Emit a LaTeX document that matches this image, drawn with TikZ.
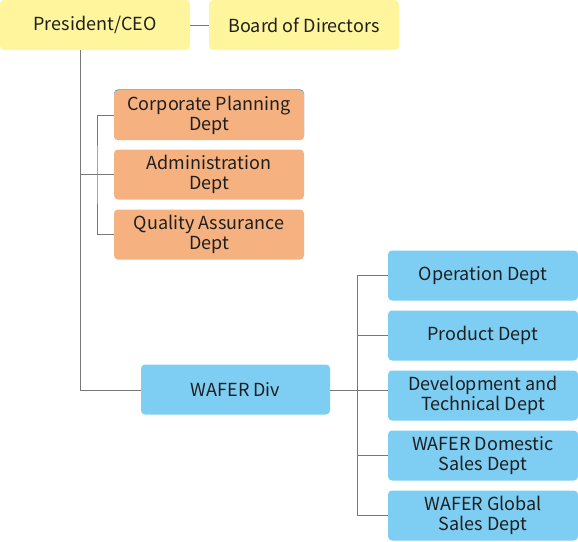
\documentclass[tikz,border=0pt]{standalone}
\usepackage{fontspec}
\setmainfont{Noto Sans CJK KR}
\definecolor{yel}{RGB}{255,245,157}
\definecolor{org}{RGB}{245,178,128}
\definecolor{blu}{RGB}{126,206,244}
\definecolor{topblu}{RGB}{20,160,235}
\definecolor{lin}{RGB}{120,120,120}
\definecolor{txt}{RGB}{30,30,30}
\begin{document}
\begin{tikzpicture}[x=1pt,y=-1pt,
  box/.style={rectangle,rounded corners=4pt,inner sep=0pt,minimum width=190pt,minimum height=50pt,
    align=center,text=txt,font=\fontsize{18}{20}\selectfont},
  ybox/.style={box,fill=yel},
  obox/.style={box,fill=org},
  bbox/.style={box,fill=blu},
  conn/.style={draw=lin,line width=0.9pt}]
\useasboundingbox (0,0) rectangle (578,541);
\node[ybox] (ceo) at (95,25) {President/CEO};
\node[ybox] (board) at (304,25) {Board of Directors};
\node[box,fill=topblu,minimum height=50pt] (cpback) at (209,114.4) {};
\node[obox] (cp) at (209,115.2) {Corporate Planning\\Dept};
\node[obox] (adm) at (209,174.5) {Administration\\Dept};
\node[obox] (qa) at (209,234.5) {Quality Assurance\\Dept};
\node[bbox,minimum width=189pt] (wafer) at (235.5,389.5) {WAFER Div};
\node[bbox] (op) at (483,275.5) {Operation Dept};
\node[bbox] (prod) at (483,335.5) {Product Dept};
\node[bbox] (dev) at (483,395.5) {Development and\\Technical Dept};
\node[bbox] (dom) at (483,455.5) {WAFER Domestic\\Sales Dept};
\node[bbox] (glob) at (483,515.5) {WAFER Global\\Sales Dept};
\coordinate (ceoB) at (80,50);
\coordinate (j1) at (80,174.5);
\coordinate (j2) at (80,390);
\coordinate (ob) at (97,174.5);
\coordinate (bb) at (357,390);
\draw[conn] (ceo.east) -- (board.west);
\draw[conn] (ceoB) -- (j2) -- (wafer.west |- j2);
\draw[conn] (j1) -- (adm.west);
\draw[conn] (cp.west) -| (ob) |- (qa.west);
\draw[conn] (wafer.east |- bb) -- (dev.west |- bb);
\draw[conn] (op.west) -| (bb);
\draw[conn] (glob.west) -| (bb);
\draw[conn] (prod.west) -- (prod.west -| bb);
\draw[conn] (dom.west) -- (dom.west -| bb);
\end{tikzpicture}
\end{document}
